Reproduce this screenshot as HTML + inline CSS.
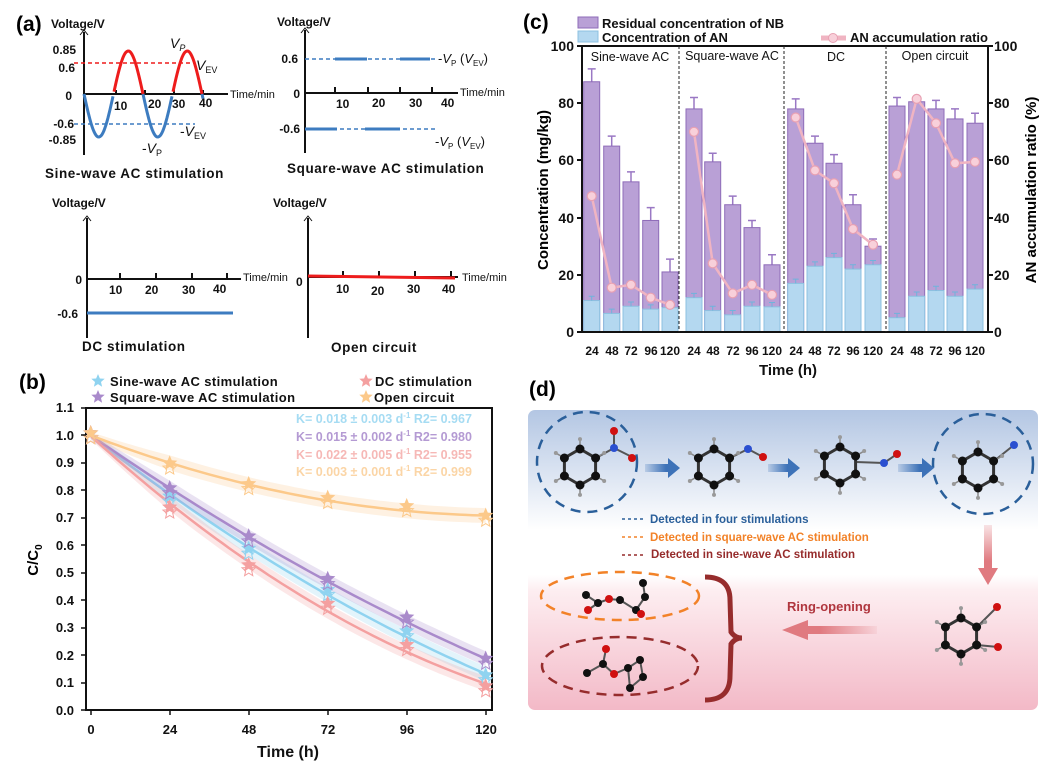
<!DOCTYPE html>
<html><head><meta charset="utf-8"><style>
body{margin:0;background:#fff}
svg{display:block;font-family:"Liberation Sans",Arial,sans-serif}
.b{font-weight:bold}
</style></head><body>
<svg id="s" width="1046" height="770" viewBox="0 0 1046 770" xmlns="http://www.w3.org/2000/svg">
<rect width="1046" height="770" fill="#fff"/>
<defs>
<linearGradient id="gd" x1="0" y1="0" x2="0" y2="1">
<stop offset="0" stop-color="#b3c6e3"/><stop offset="0.4" stop-color="#ffffff"/><stop offset="0.55" stop-color="#ffffff"/><stop offset="0.6" stop-color="#fdeef1"/><stop offset="1" stop-color="#f3b9c7"/></linearGradient>
<linearGradient id="ba" x1="0" x2="1"><stop offset="0" stop-color="#3d72b8" stop-opacity="0.2"/><stop offset="0.6" stop-color="#3d72b8"/></linearGradient>
<linearGradient id="pa" x1="1" x2="0"><stop offset="0" stop-color="#e07a80" stop-opacity="0.1"/><stop offset="0.6" stop-color="#e07a80"/></linearGradient>
<linearGradient id="pd" x1="0" y1="0" x2="0" y2="1"><stop offset="0" stop-color="#e07a80" stop-opacity="0.2"/><stop offset="0.6" stop-color="#e07a80"/></linearGradient>
</defs>

<!-- ===== (a) ===== -->
<text x="16" y="31" font-size="21" class="b">(a)</text>
<g font-size="12" class="b" fill="#111">
<text x="51" y="28">Voltage/V</text>
<text x="277" y="26">Voltage/V</text>
<text x="52" y="207">Voltage/V</text>
<text x="273" y="207">Voltage/V</text>
</g>
<g stroke="#111" stroke-width="2" fill="none">
<path d="M84 155V32M305 153V30M87 338V218M308 338V218"/>
<path d="M84 94H228M305 93H458M87 279H241M308 277H458"/>
<path d="M116 90v4M145 90v4M174 90v4M203 90v4M335 87v6M368 87v6M400 87v6M432 87v6M120 273v6M156 273v6M192 273v6M227 273v6M343 271v6M379 271v6M415 271v6M451 271v6"/>
</g>
<path d="M80 35l4-5 4 5M301 33l4-5 4 5M83 221l4-5 4 5M304 221l4-5 4 5" stroke="#111" fill="none" stroke-width="1"/>
<path id="sinb" fill="none" stroke="#3d7cc0" stroke-width="3"/>
<path id="sinr" fill="none" stroke="#ee1c1c" stroke-width="3"/>
<path d="M74 63H195" stroke="#ee1c1c" stroke-width="1.6" stroke-dasharray="4,3"/>
<path d="M74 124H195" stroke="#3d7cc0" stroke-width="1.6" stroke-dasharray="4,3"/>
<g font-size="12" class="b" fill="#111" text-anchor="end">
<text x="76" y="54">0.85</text><text x="75" y="72">0.6</text><text x="72" y="100">0</text>
<text x="74" y="128">-0.6</text><text x="76" y="144">-0.85</text>
</g>
<g font-size="12" class="b" fill="#111">
<text x="114" y="110">10</text><text x="148" y="108">20</text><text x="172" y="108">30</text><text x="199" y="107">40</text>
<text x="230" y="98" font-size="11" font-weight="normal">Time/min</text>
<text x="170" y="48" font-style="italic" font-weight="normal" font-size="14">V<tspan font-size="9" dy="3">P</tspan></text>
<text x="196" y="70" font-style="italic" font-weight="normal" font-size="14">V<tspan font-size="9" dy="3" font-style="normal">EV</tspan></text>
<text x="180" y="136" font-weight="normal" font-size="14">-<tspan font-style="italic">V</tspan><tspan font-size="9" dy="3">EV</tspan></text>
<text x="142" y="153" font-weight="normal" font-size="14">-<tspan font-style="italic">V</tspan><tspan font-size="9" dy="3">P</tspan></text>
<text x="45" y="178" font-size="13.5" letter-spacing="0.6">Sine-wave AC stimulation</text>
</g>
<path d="M305 59H437M305 129H437" stroke="#3d7cc0" stroke-width="1.6" stroke-dasharray="4,3"/>
<path d="M335 59H367M400 59H430M305 129H337M365 129H400" stroke="#3d7cc0" stroke-width="3"/>
<g font-size="12" class="b" fill="#111">
<text x="298" y="63" text-anchor="end">0.6</text><text x="300" y="98" text-anchor="end">0</text><text x="300" y="133" text-anchor="end">-0.6</text>
<text x="336" y="108">10</text><text x="372" y="107">20</text><text x="409" y="107">30</text><text x="441" y="107">40</text>
<text x="460" y="96" font-size="11" font-weight="normal">Time/min</text>
<text x="287" y="173" font-size="13.5" letter-spacing="0.6">Square-wave AC stimulation</text>
<text x="82" y="351" font-size="13.5" letter-spacing="0.6">DC stimulation</text>
<text x="331" y="352" font-size="13.5" letter-spacing="0.6">Open circuit</text>
</g>
<g font-size="13" fill="#111">
<text x="438" y="63">-<tspan font-style="italic">V</tspan><tspan font-size="8" dy="3">P</tspan><tspan dy="-3"> (</tspan><tspan font-style="italic">V</tspan><tspan font-size="8" dy="3">EV</tspan><tspan dy="-3">)</tspan></text>
<text x="435" y="146">-<tspan font-style="italic">V</tspan><tspan font-size="8" dy="3">P</tspan><tspan dy="-3"> (</tspan><tspan font-style="italic">V</tspan><tspan font-size="8" dy="3">EV</tspan><tspan dy="-3">)</tspan></text>
</g>
<path d="M87 313H233" stroke="#3d7cc0" stroke-width="3"/>
<path d="M308 276L455 278" stroke="#ee1c1c" stroke-width="3"/>
<g font-size="12" class="b" fill="#111">
<text x="82" y="284" text-anchor="end">0</text><text x="78" y="318" text-anchor="end">-0.6</text>
<text x="109" y="294">10</text><text x="145" y="294">20</text><text x="182" y="294">30</text><text x="213" y="293">40</text>
<text x="243" y="281" font-size="11" font-weight="normal">Time/min</text>
<text x="296" y="286">0</text>
<text x="336" y="293">10</text><text x="371" y="295">20</text><text x="407" y="293">30</text><text x="442" y="293">40</text>
<text x="462" y="281" font-size="11" font-weight="normal">Time/min</text>
</g>

<!-- ===== (b) ===== -->
<text x="19" y="389" font-size="21" class="b">(b)</text>
<rect x="86" y="408" width="406" height="302" fill="none" stroke="#111" stroke-width="2"/>
<g id="bplot"></g>
<g font-size="13" class="b" fill="#111" text-anchor="end">
<text x="74" y="412">1.1</text><text x="74" y="440">1.0</text><text x="74" y="467">0.9</text><text x="74" y="495">0.8</text>
<text x="74" y="522">0.7</text><text x="74" y="550">0.6</text><text x="74" y="577">0.5</text><text x="74" y="605">0.4</text>
<text x="74" y="632">0.3</text><text x="74" y="660">0.2</text><text x="74" y="687">0.1</text><text x="74" y="715">0.0</text>
</g>
<g stroke="#111" stroke-width="1.5"><path d="M81 408h5M81 435h5M81 463h5M81 490h5M81 518h5M81 545h5M81 573h5M81 600h5M81 628h5M81 655h5M81 683h5M81 710h5M91 710v5M170 710v5M249 710v5M328 710v5M407 710v5M486 710v5"/></g>
<g font-size="13" class="b" fill="#111" text-anchor="middle">
<text x="91" y="734">0</text><text x="170" y="734">24</text><text x="249" y="734">48</text><text x="328" y="734">72</text><text x="407" y="734">96</text><text x="486" y="734">120</text>
<text x="288" y="757" font-size="16">Time (h)</text>
</g>
<text transform="translate(38,560) rotate(-90)" font-size="15" class="b" text-anchor="middle">C/C<tspan font-size="10" dy="4">0</tspan></text>
<g font-size="13" class="b" fill="#111" letter-spacing="0.4">
<text x="110" y="386">Sine-wave AC stimulation</text>
<text x="110" y="402">Square-wave AC stimulation</text>
<text x="375" y="386">DC stimulation</text>
<text x="374" y="402">Open circuit</text>
</g>
<g font-size="12.5" class="b">
<text x="296" y="423" fill="#a6dcf3">K= 0.018 ± 0.003 d<tspan font-size="8" dy="-5">-1</tspan><tspan dy="5">  R2= 0.967</tspan></text>
<text x="296" y="441" fill="#b49ad3">K= 0.015 ± 0.002 d<tspan font-size="8" dy="-5">-1</tspan><tspan dy="5">  R2= 0.980</tspan></text>
<text x="296" y="459" fill="#f6b8b6">K= 0.022 ± 0.005 d<tspan font-size="8" dy="-5">-1</tspan><tspan dy="5">  R2= 0.955</tspan></text>
<text x="296" y="476" fill="#fbd5a6">K= 0.003 ± 0.001 d<tspan font-size="8" dy="-5">-1</tspan><tspan dy="5">  R2= 0.999</tspan></text>
</g>

<!-- ===== (c) ===== -->
<text x="523" y="29" font-size="21" class="b">(c)</text>
<g id="cplot"></g>
<path d="M582 46V332H988V46H582" fill="none" stroke="#111" stroke-width="2"/>
<path d="M679 46V332M784 46V332M886 46V332" stroke="#222" stroke-width="1" stroke-dasharray="3,2"/>
<g stroke="#111" stroke-width="2"><path d="M577 46h5M577 103h5M577 160h5M577 218h5M577 275h5M577 332h5M988 46h5M988 103h5M988 160h5M988 218h5M988 275h5M988 332h5"/></g>
<g font-size="14" class="b" fill="#111" text-anchor="end">
<text x="574" y="51">100</text><text x="574" y="108">80</text><text x="574" y="165">60</text><text x="574" y="223">40</text><text x="574" y="280">20</text><text x="574" y="337">0</text>
</g>
<g font-size="14" class="b" fill="#111">
<text x="994" y="51">100</text><text x="994" y="108">80</text><text x="994" y="165">60</text><text x="994" y="223">40</text><text x="994" y="280">20</text><text x="994" y="337">0</text>
</g>
<g font-size="12" class="b" fill="#111" text-anchor="middle">
<text x="592" y="355">24</text><text x="612" y="355">48</text><text x="631" y="355">72</text><text x="651" y="355">96</text><text x="670" y="355">120</text>
<text x="694" y="355">24</text><text x="713" y="355">48</text><text x="733" y="355">72</text><text x="752" y="355">96</text><text x="772" y="355">120</text>
<text x="796" y="355">24</text><text x="815" y="355">48</text><text x="834" y="355">72</text><text x="853" y="355">96</text><text x="873" y="355">120</text>
<text x="897" y="355">24</text><text x="917" y="355">48</text><text x="936" y="355">72</text><text x="955" y="355">96</text><text x="975" y="355">120</text>
<text x="788" y="375" font-size="15">Time (h)</text>
</g>
<g font-size="12.5" fill="#111" text-anchor="middle">
<text x="630" y="61">Sine-wave AC</text><text x="732" y="60">Square-wave AC</text><text x="836" y="61">DC</text><text x="935" y="60">Open circuit</text>
</g>
<text transform="translate(548,190) rotate(-90)" font-size="15" class="b" text-anchor="middle">Concentration (mg/kg)</text>
<text transform="translate(1036,190) rotate(-90)" font-size="15" class="b" text-anchor="middle">AN accumulation ratio (%)</text>
<rect x="578" y="17" width="20" height="11" fill="#b9a0d6" stroke="#8e6bb8"/>
<rect x="578" y="31" width="20" height="11" fill="#b4d8f0" stroke="#8cc0e0"/>
<g font-size="13" class="b" fill="#111">
<text x="602" y="28">Residual concentration of NB</text>
<text x="602" y="42">Concentration of AN</text>
<text x="850" y="42">AN accumulation ratio</text>
</g>
<path d="M821 38H846" stroke="#f0b4c2" stroke-width="5"/>
<circle cx="833" cy="38" r="4.5" fill="#f8d0da" stroke="#e8a0b2"/>

<!-- ===== (d) ===== -->
<text x="529" y="396" font-size="21" class="b">(d)</text>
<rect x="528" y="410" width="510" height="300" rx="7" fill="url(#gd)"/>
<g fill="none" stroke-dasharray="10,7" stroke-width="2.5">
<circle cx="587" cy="462" r="50" stroke="#2a5f9a"/>
<circle cx="983" cy="464" r="50" stroke="#2a5f9a"/>
<ellipse cx="620" cy="596" rx="79" ry="24" stroke="#f28228"/>
<ellipse cx="620" cy="666" rx="78" ry="29" stroke="#962c2c"/>
</g>
<g id="mols"></g>
<path d="M645 464H668V458L680 468L668 478V472H645Z" fill="url(#ba)"/>
<path d="M768 464H788V458L800 468L788 478V472H768Z" fill="url(#ba)"/>
<path d="M898 464H922V458L934 468L922 478V472H898Z" fill="url(#ba)"/>
<path d="M984 525H992V568H998L988 585L978 568H984Z" fill="url(#pd)"/>
<path d="M877 626H808V620L782 630L808 640V634H877Z" fill="url(#pa)"/>
<path d="M705 577Q730 577 730 600L731 632Q735 638 742 638Q735 638 731 644L730 676Q730 700 705 700" fill="none" stroke="#962c2c" stroke-width="5"/>
<g font-size="11.5" class="b">
<path d="M622 519H646" stroke="#2a5f9a" stroke-width="1.5" stroke-dasharray="3,3"/>
<path d="M622 537H646" stroke="#f28228" stroke-width="1.5" stroke-dasharray="3,3"/>
<path d="M622 555H646" stroke="#962c2c" stroke-width="1.5" stroke-dasharray="3,3"/>
<text x="650" y="523" fill="#2a5f9a">Detected in four stimulations</text>
<text x="650" y="541" fill="#f28228">Detected in square-wave AC stimulation</text>
<text x="651" y="558" fill="#962c2c">Detected in sine-wave AC stimulation</text>
<text x="787" y="611" fill="#b0363e" font-size="13">Ring-opening</text>
</g>
</svg>
<script>
const NS="http://www.w3.org/2000/svg";
function el(p,t,a){const e=document.createElementNS(NS,t);for(const k in a)e.setAttribute(k,a[k]);p.appendChild(e);return e;}
let d1="",d2="",pb=false,pr=false;
for(let i=0;i<=119;i++){const x=84+i;const y=94+43*Math.sin(i/59*2*Math.PI);
 if(y>=93.5){d1+=(pb?"L":"M")+x+" "+y.toFixed(1);pb=true}else pb=false;
 if(y<=94.5){d2+=(pr?"L":"M")+x+" "+y.toFixed(1);pr=true}else pr=false;}
document.getElementById("sinb").setAttribute("d",d1);document.getElementById("sinr").setAttribute("d",d2);
function star(g,cx,cy,R,f,st){let p=[];for(let i=0;i<10;i++){const a=-Math.PI/2+i*Math.PI/5;const rr=i%2?R*0.45:R;p.push((cx+rr*Math.cos(a)).toFixed(1)+","+(cy+rr*Math.sin(a)).toFixed(1));}
 el(g,"polygon",{points:p.join(" "),fill:f,stroke:st||"none","stroke-width":1});}
const gb=document.getElementById("bplot");
const X=t=>90.7+t*395/120, Y=v=>710-v*275;
const ser=[["#8fd3f0",[1,0.77,0.58,0.43,0.28,0.12]],["#a98acb",[1,0.80,0.625,0.47,0.33,0.18]],["#f4a0a0",[1,0.73,0.52,0.38,0.23,0.08]],["#fcc98a",[1,0.89,0.815,0.765,0.735,0.70]]];
const ts=[0,24,48,72,96,120];
// quadratic least-squares fit with weight on t=0
function fit(v){let S=[[0,0,0],[0,0,0],[0,0,0]],B=[0,0,0];
 ts.forEach((t,i)=>{const w=i==0?5:1;const u=t/120,r=[1,u,u*u];for(let a=0;a<3;a++){B[a]+=w*r[a]*v[i];for(let c=0;c<3;c++)S[a][c]+=w*r[a]*r[c];}});
 // solve 3x3
 const M=S.map((r,i)=>r.concat([B[i]]));for(let i=0;i<3;i++){for(let j=i+1;j<3;j++){const f=M[j][i]/M[i][i];for(let k=i;k<4;k++)M[j][k]-=f*M[i][k];}}
 const x=[0,0,0];for(let i=2;i>=0;i--){let s=M[i][3];for(let k=i+1;k<3;k++)s-=M[i][k]*x[k];x[i]=s/M[i][i];}return t=>{const u=t/120;return x[0]+x[1]*u+x[2]*u*u;};}
ser.forEach(([c,v])=>{const f=fit(v);let up=[],dn=[],ln=[];for(let t=0;t<=120;t+=2){const y=f(t);const w=0.012+0.015*Math.min(t,24)/24;ln.push(X(t).toFixed(1)+","+Y(y).toFixed(1));up.push(X(t).toFixed(1)+","+Y(y+w).toFixed(1));dn.unshift(X(t).toFixed(1)+","+Y(y-w).toFixed(1));}
 el(gb,"polygon",{points:up.concat(dn).join(" "),fill:c,opacity:0.25});
 el(gb,"polyline",{points:ln.join(" "),fill:"none",stroke:c,"stroke-width":2.5});});
ser.forEach(([c,v])=>v.forEach((y,i)=>{star(gb,X(ts[i]),Y(y)-2,8,c,null);star(gb,X(ts[i]),Y(y)+3,7,"none",c);}));
star(gb,98,381,7,"#8fd3f0");star(gb,98,397,7,"#a98acb");star(gb,366,381,7,"#f4a0a0");star(gb,366,397,7,"#fcc98a");
const gc=document.getElementById("cplot");const Yc=v=>332-2.86*v;
const cx=[591.7,611.7,631,650.7,670,694,712.7,732.7,752,772,795.7,815,834,853,873,897,916.7,936,955,975];
const nb=[87.5,65,52.5,39,21,78,59.5,44.5,36.5,23.5,78,66,59,44.5,30,79,80.5,78,74.5,73];
const ne=[4.5,3.5,3.5,4.5,4.5,4,3,3,2.5,3.5,3.5,2.5,3,3.5,2.5,3,0,3,3.5,3.5];
const an=[11,6.5,9,8,8.5,12,7.5,6,9,8.8,17,23,26,22,23.5,5,12.5,14.5,12.5,15];
const rt=[47.5,15.5,16.5,12,9.5,70,24,13.5,16.5,13,75,56.5,52,36,30.5,55,81.5,73,59,59.5];
cx.forEach((x,i)=>{
 el(gc,"path",{d:`M${x} ${Yc(nb[i])}V${Yc(nb[i]+ne[i])}M${x-4} ${Yc(nb[i]+ne[i])}H${x+4}`,stroke:"#9a78c4","stroke-width":1.5});
 el(gc,"rect",{x:x-8,y:Yc(nb[i]),width:16,height:332-Yc(nb[i]),fill:"#b9a0d6",stroke:"#8e6bb8","stroke-width":1});
 el(gc,"rect",{x:x-8,y:Yc(an[i]),width:16,height:332-Yc(an[i]),fill:"#b4d8f0",stroke:"#8cc0e0","stroke-width":1});
 el(gc,"path",{d:`M${x} ${Yc(an[i])}V${Yc(an[i]+1.5)}M${x-3} ${Yc(an[i]+1.5)}H${x+3}`,stroke:"#6fb3dc","stroke-width":1});});
for(let g=0;g<4;g++){const pts=[];for(let j=0;j<5;j++){const i=g*5+j;pts.push(cx[i]+","+Yc(rt[i]));}
 el(gc,"polyline",{points:pts.join(" "),fill:"none",stroke:"#f0b4c2","stroke-width":2.5});
 for(let j=0;j<5;j++){const i=g*5+j;el(gc,"circle",{cx:cx[i],cy:Yc(rt[i]),r:4.5,fill:"#f8d0da",stroke:"#e8a0b2","stroke-width":1.2});}}
const gm=document.getElementById("mols");
function ring(cx,cy,R){const p=[];for(let i=0;i<6;i++){const a=Math.PI/6+i*Math.PI/3;p.push([cx+R*Math.cos(a),cy+R*Math.sin(a)]);}
 el(gm,"polygon",{points:p.map(q=>q.join(",")).join(" "),fill:"none",stroke:"#333","stroke-width":3});
 p.forEach(q=>{const dx=q[0]-cx,dy=q[1]-cy;el(gm,"line",{x1:q[0],y1:q[1],x2:cx+dx*1.55,y2:cy+dy*1.55,stroke:"#888","stroke-width":1.5});el(gm,"circle",{cx:cx+dx*1.55,cy:cy+dy*1.55,r:2,fill:"#999"});});
 p.forEach(q=>el(gm,"circle",{cx:q[0],cy:q[1],r:4.5,fill:"#111"}));return p;}
function at(x,y,c,r){el(gm,"circle",{cx:x,cy:y,r:r||4,fill:c});}
function bond(a,b,c,d){el(gm,"line",{x1:a,y1:b,x2:c,y2:d,stroke:"#555","stroke-width":2});}
bond(596,458,614,448);bond(614,448,614,432);bond(614,448,632,457);
ring(580,467,18);at(614,448,"#2a4fd0");at(614,431,"#d01010");at(632,458,"#d01010");
bond(730,458,748,449);bond(748,449,763,457);
ring(714,467,18);at(748,449,"#2a4fd0");at(763,457,"#d01010");
bond(856,462,884,463);bond(884,463,897,454);
ring(840,465,18);at(884,463,"#2a4fd0");at(897,454,"#d01010");
bond(994,461,1014,445);
ring(978,470,18);at(1014,445,"#2a4fd0");
bond(977,627,997,607);bond(977,645,998,647);
ring(961,636,18);at(997,607,"#d01010");at(998,647,"#d01010");
const m1=[[586,595],[598,603],[620,600],[636,610],[645,597],[643,583]];
bond(586,595,598,603);bond(598,603,609,599);bond(609,599,620,600);bond(620,600,636,610);bond(636,610,645,597);bond(645,597,643,583);bond(598,603,588,610);bond(636,610,641,614);
m1.forEach(q=>at(q[0],q[1],"#111"));at(609,599,"#d01010");at(588,610,"#d01010");at(641,614,"#d01010");
const m2=[[587,673],[603,664],[628,668],[640,660],[643,677],[630,688]];
bond(587,673,603,664);bond(603,664,606,649);bond(603,664,614,674);bond(614,674,628,668);bond(628,668,640,660);bond(640,660,643,677);bond(643,677,630,688);bond(630,688,628,668);
m2.forEach(q=>at(q[0],q[1],"#111"));at(606,649,"#d01010");at(614,674,"#d01010");
</script>
</body></html>
